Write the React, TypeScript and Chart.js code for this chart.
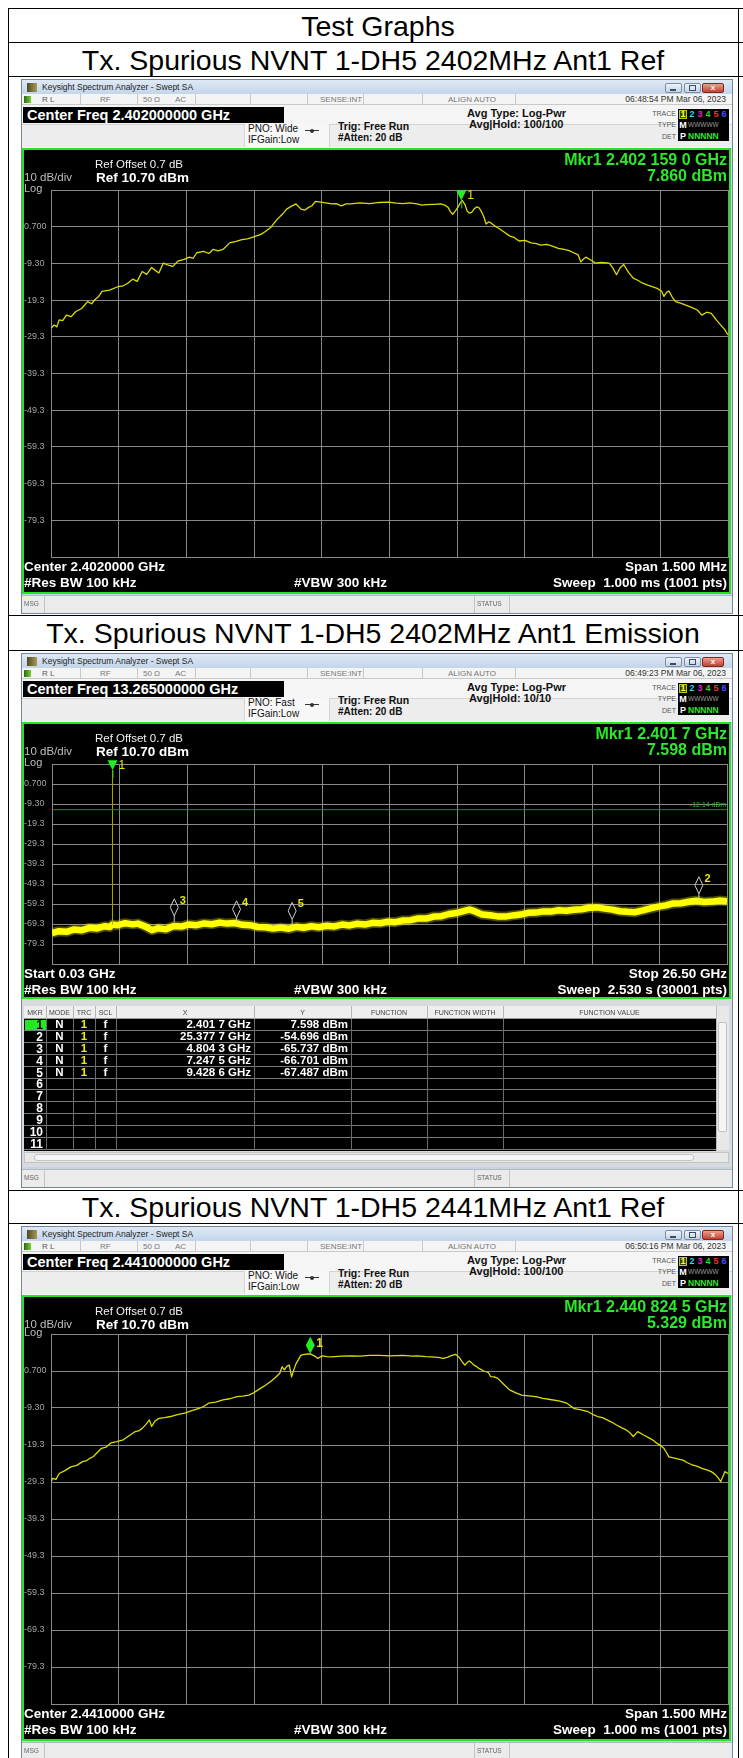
import React, { useEffect, useRef } from 'react';
import { Chart, registerables } from 'chart.js';

Chart.register(...registerables);

const SANS = '"Liberation Sans", Arial, Helvetica, sans-serif';
const GRID = '#8a8a8a';

// ---------------- axes ----------------
const yTickValues = [10.7, 0.7, -9.3, -19.3, -29.3, -39.3, -49.3, -59.3, -69.3, -79.3, -89.3];
const yTickLabels = ['', '0.700', '-9.30', '-19.3', '-29.3', '-39.3', '-49.3', '-59.3', '-69.3', '-79.3', ''];
const X_DIVS = 10;

// ---------------- 2402 MHz Ref (offset from centre, MHz) ----------------
const ref2402Offset = [
  -0.75, -0.743, -0.737, -0.732, -0.724, -0.716, -0.705, -0.695, -0.682, -0.669, -0.66, -0.653, -0.645, -0.637,
  -0.62, -0.601, -0.59, -0.58, -0.569, -0.559, -0.548, -0.538, -0.527, -0.519, -0.511, -0.501, -0.49, -0.48,
  -0.469, -0.455, -0.443, -0.435, -0.427, -0.412, -0.4, -0.391, -0.38, -0.369, -0.354, -0.34, -0.327, -0.315,
  -0.301, -0.285, -0.275, -0.264, -0.249, -0.238, -0.228, -0.217, -0.207, -0.196, -0.188, -0.18, -0.172, -0.164,
  -0.149, -0.138, -0.128, -0.118, -0.107, -0.096, -0.086, -0.065, -0.044, -0.023, -0.002, 0.015, 0.03, 0.045,
  0.061, 0.072, 0.082, 0.098, 0.114, 0.124, 0.13, 0.135, 0.14, 0.146, 0.151, 0.156, 0.161, 0.167, 0.172, 0.177,
  0.182, 0.188, 0.193, 0.198, 0.203, 0.209, 0.214, 0.219, 0.224, 0.232, 0.24, 0.253, 0.266, 0.277, 0.287, 0.3,
  0.314, 0.325, 0.335, 0.348, 0.361, 0.374, 0.387, 0.398, 0.408, 0.418, 0.424, 0.43, 0.435, 0.445, 0.456, 0.47,
  0.487, 0.495, 0.503, 0.511, 0.519, 0.53, 0.54, 0.55, 0.561, 0.572, 0.582, 0.593, 0.603, 0.608, 0.614, 0.619,
  0.627, 0.634, 0.645, 0.655, 0.668, 0.682, 0.692, 0.703, 0.713, 0.719, 0.724, 0.734, 0.742, 0.75,
];
const ref2402Level = [
  -27.0, -26.1, -26.6, -24.7, -24.9, -23.4, -23.8, -22.4, -21.6, -19.7, -20.3, -19.2, -18.4, -16.9,
  -16.6, -15.6, -15.4, -14.7, -13.6, -14.2, -11.5, -12.3, -10.4, -11.2, -11.9, -9.2, -9.8, -10.1,
  -8.7, -8.2, -7.6, -7.9, -6.4, -6.0, -6.6, -5.5, -5.9, -5.5, -3.7, -3.3, -2.8, -2.6,
  -2.1, -1.4, -0.6, 0.4, 2.7, 4.0, 5.5, 6.3, 6.9, 5.5, 5.2, 5.9, 6.4, 7.6,
  7.3, 7.1, 6.9, 7.0, 6.4, 6.9, 6.9, 7.2, 7.0, 7.3, 7.4, 7.1, 7.0, 7.2,
  6.9, 6.6, 6.7, 6.8, 6.9, 6.5, 5.9, 4.8, 4.1, 5.0, 5.9, 7.0, 7.86, 6.8, 5.0, 4.4,
  4.6, 5.6, 6.1, 5.9, 5.0, 3.4, 1.4, 2.0, 1.8, 1.0, 0.4, -0.7, -1.8, -2.3, -3.2, -3.0,
  -3.7, -3.9, -4.3, -4.1, -4.6, -5.2, -5.5, -5.8, -6.4, -7.0, -8.9, -8.1, -7.6, -8.3, -9.2, -9.0,
  -9.2, -10.6, -12.4, -10.5, -9.6, -11.8, -13.3, -13.9, -14.7, -15.2, -15.6, -16.1, -16.9, -18.3, -17.2, -16.8,
  -18.6, -19.7, -20.1, -20.6, -21.2, -22.0, -23.4, -22.6, -22.9, -23.9, -24.7, -26.1, -27.2, -28.8,
];
const ref2402MkrX = [0.159];
const ref2402MkrY = [7.86];

// ---------------- 2441 MHz Ref (offset from centre, MHz) ----------------
const ref2441Offset = [
  -0.75, -0.746, -0.739, -0.732, -0.72, -0.706, -0.693, -0.68, -0.672, -0.664, -0.656, -0.648, -0.638, -0.628,
  -0.617, -0.604, -0.59, -0.577, -0.564, -0.556, -0.548, -0.54, -0.532, -0.527, -0.52, -0.511, -0.498, -0.485,
  -0.47, -0.454, -0.438, -0.422, -0.412, -0.401, -0.385, -0.369, -0.354, -0.338, -0.325, -0.312, -0.301, -0.291,
  -0.278, -0.264, -0.254, -0.243, -0.238, -0.233, -0.227, -0.222, -0.217, -0.212, -0.207, -0.196, -0.188, -0.18,
  -0.175, -0.17, -0.164, -0.159, -0.149, -0.138, -0.128, -0.107, -0.086, -0.065, -0.044, -0.023, 0.0, 0.03,
  0.05, 0.061, 0.08, 0.093, 0.108, 0.119, 0.128, 0.135, 0.146, 0.151, 0.156, 0.162, 0.167, 0.172, 0.177, 0.182,
  0.188, 0.193, 0.198, 0.209, 0.219, 0.224, 0.232, 0.24, 0.253, 0.266, 0.28, 0.293, 0.308, 0.324, 0.34, 0.356,
  0.375, 0.393, 0.4, 0.408, 0.424, 0.44, 0.45, 0.461, 0.472, 0.482, 0.492, 0.503, 0.514, 0.524, 0.532, 0.54,
  0.55, 0.563, 0.577, 0.585, 0.592, 0.6, 0.608, 0.614, 0.619, 0.634, 0.65, 0.66, 0.671, 0.682, 0.692, 0.703,
  0.713, 0.722, 0.729, 0.734, 0.738, 0.743, 0.75,
];
const ref2441Level = [
  -29.2, -28.3, -28.6, -27.0, -26.3, -25.2, -24.8, -23.8, -23.6, -22.9, -22.4, -21.4, -20.2, -19.9,
  -18.7, -18.4, -17.9, -16.8, -15.7, -15.5, -14.8, -13.8, -12.5, -14.3, -12.9, -12.1, -11.9, -11.6,
  -11.1, -10.7, -10.0, -9.4, -8.9, -8.0, -7.7, -7.1, -6.8, -6.2, -6.1, -5.8, -5.2, -4.4,
  -3.4, -2.2, -1.2, 0.1, 1.85, 1.0, 2.0, 2.3, -0.9, 1.0, 2.7, 5.0, 5.2, 5.3,
  5.329, 5.0, 4.6, 4.1, 4.8, 4.6, 4.5, 4.7, 4.8, 4.7, 4.9, 4.9, 4.8, 4.9,
  4.7, 4.8, 4.6, 4.5, 4.4, 4.1, 4.4, 4.8, 5.2, 4.8, 4.1, 3.0, 2.3, 3.0, 3.4, 2.9,
  2.2, 1.9, 1.4, 0.7, 0.3, -0.8, -0.9, -1.3, -2.9, -4.4, -5.2, -5.8, -6.0, -6.2, -6.7, -7.0,
  -7.4, -8.0, -8.6, -9.4, -9.8, -10.3, -11.0, -11.6, -11.9, -12.5, -13.1, -13.9, -14.6, -15.2, -15.9, -17.0,
  -15.7, -16.6, -17.5, -18.1, -18.8, -19.4, -20.2, -21.4, -22.5, -22.9, -23.4, -24.1, -24.7, -25.1, -25.6, -26.0,
  -26.5, -27.3, -28.3, -29.2, -28.0, -26.5, -27.0,
];
const ref2441MkrX = [-0.1755];
const ref2441MkrY = [5.329];

// ---------------- 2402 MHz Emission (GHz) ----------------
const emiFreq = [
  0.03, 0.3, 0.6, 0.9, 1.2, 1.5, 1.8, 2.1, 2.3, 2.4, 2.6, 2.9, 3.2, 3.4, 3.7, 3.95, 4.2, 4.5, 4.8, 5.1,
  5.4, 5.7, 6.0, 6.3, 6.6, 6.9, 7.2, 7.5, 7.8, 8.1, 8.4, 8.7, 9.0, 9.3, 9.6, 9.9, 10.2, 10.5, 10.8, 11.1,
  11.4, 11.7, 12.0, 12.3, 12.6, 12.9, 13.2, 13.5, 13.8, 14.1, 14.4, 14.7, 15.0, 15.3, 15.6, 15.9, 16.2, 16.4,
  16.6, 16.9, 17.2, 17.5, 17.8, 18.1, 18.4, 18.7, 19.0, 19.3, 19.6, 19.9, 20.2, 20.5, 20.8, 21.1, 21.4, 21.7,
  22.0, 22.3, 22.6, 22.9, 23.2, 23.5, 23.8, 24.1, 24.4, 24.7, 25.0, 25.3, 25.6, 25.9, 26.2, 26.5,
];
const emiLevel = [
  -73.8, -72.9, -73.2, -72.0, -72.4, -71.2, -71.5, -70.4, -70.8, -69.6, -69.9, -68.9, -69.5, -69.1, -70.6, -72.4, -71.4, -71.9, -70.3, -70.6,
  -69.5, -69.9, -69.0, -69.4, -68.6, -69.1, -68.8, -69.7, -69.9, -70.8, -70.9, -71.6, -71.1, -71.7, -70.7, -71.2, -70.4, -70.9, -70.2, -70.5,
  -69.6, -70.0, -69.2, -69.6, -68.7, -68.9, -68.2, -68.4, -67.5, -67.4, -66.5, -66.6, -65.6, -65.4, -64.3, -63.8, -62.7, -62.1,
  -62.9, -64.6, -64.9, -65.5, -65.6, -65.0, -64.6, -63.7, -63.6, -63.0, -63.1, -62.4, -62.7, -62.2, -61.9, -61.2, -61.0, -61.6,
  -62.1, -62.9, -63.2, -63.4, -62.5, -61.5, -60.6, -60.0, -59.0, -58.9, -58.2, -57.7, -58.3, -58.1, -57.6, -57.9,
];
const emiSpikeFreq = [2.4017, 2.4017];
const emiSpikeLevel = [-69.6, 7.598];
const emiMkrFreq = [2.4017, 25.3777, 4.8043, 7.2475, 9.4286];
const emiMkrLevel = [7.598, -54.696, -65.737, -66.701, -67.487];
const emiDisplayLine = -12.14;

// ---------------- helpers ----------------
type MarkerDef = { x: number; y: number; label: string; shape: 'tri' | 'dia' | 'hollow' };
type SeriesDef = { xs: number[]; ys: number[]; color: string; width: number };
type PlotDef = {
  w: number; h: number; yAxisW: number; padTop: number; padBottom: number; padRight: number;
  xMin: number; xMax: number; series: SeriesDef[]; markers: MarkerDef[]; dline?: number;
};

function Plot({ def, left, top }: { def: PlotDef; left: number; top: number }) {
  const ref = useRef<HTMLCanvasElement>(null);
  useEffect(() => {
    const canvas = ref.current;
    if (!canvas) return;
    const span = def.xMax - def.xMin;
    const xTicks = Array.from({ length: X_DIVS + 1 }, (_, i) => def.xMin + (span * i) / X_DIVS);
    const datasets: any[] = [];
    if (def.dline !== undefined) {
      datasets.push({
        data: [{ x: def.xMin, y: def.dline }, { x: def.xMax, y: def.dline }],
        borderColor: '#0c9a0c', borderWidth: 1, pointRadius: 0, fill: false,
      });
    }
    def.series.forEach((s) => {
      datasets.push({
        data: s.xs.map((x, i) => ({ x, y: s.ys[i] })),
        borderColor: s.color, borderWidth: s.width, pointRadius: 0, tension: 0, fill: false,
        borderJoinStyle: 'round', borderCapStyle: 'butt',
      });
    });
    const mkPlugin = {
      id: 'mkrs',
      afterDatasetsDraw(chart: any) {
        const ctx = chart.ctx;
        const xs = chart.scales.x;
        const ys = chart.scales.y;
        ctx.save();
        if (def.dline !== undefined) {
          const py = ys.getPixelForValue(def.dline);
          ctx.fillStyle = '#22c022';
          ctx.font = `7px ${SANS}`;
          ctx.textAlign = 'right';
          ctx.textBaseline = 'alphabetic';
          ctx.fillText(`${def.dline.toFixed(2)} dBm`, chart.chartArea.right - 1, py - 3);
        }
        def.markers.forEach((m) => {
          const px = xs.getPixelForValue(m.x);
          const py = ys.getPixelForValue(m.y);
          ctx.beginPath();
          if (m.shape === 'tri') {
            ctx.moveTo(px - 5, py - 10);
            ctx.lineTo(px + 5, py - 10);
            ctx.lineTo(px, py);
            ctx.closePath();
            ctx.fillStyle = '#22ee22';
            ctx.fill();
            ctx.beginPath();
            ctx.moveTo(px + 0.5, py);
            ctx.lineTo(px + 0.5, py + 8);
            ctx.strokeStyle = '#22cc22';
            ctx.lineWidth = 1;
            ctx.stroke();
            ctx.fillStyle = '#e8e800';
            ctx.font = `12px ${SANS}`;
            ctx.textAlign = 'left';
            ctx.textBaseline = 'middle';
            ctx.fillText(m.label, px + 6, py - 5);
          } else if (m.shape === 'dia') {
            ctx.moveTo(px, py - 17);
            ctx.lineTo(px + 4.5, py - 8.5);
            ctx.lineTo(px, py);
            ctx.lineTo(px - 4.5, py - 8.5);
            ctx.closePath();
            ctx.fillStyle = '#22ee22';
            ctx.fill();
            ctx.fillStyle = '#e8e800';
            ctx.font = `bold 12px ${SANS}`;
            ctx.textAlign = 'left';
            ctx.textBaseline = 'middle';
            ctx.fillText(m.label, px + 6, py - 10);
          } else {
            ctx.moveTo(px + 0.5, py - 18);
            ctx.lineTo(px + 4.5, py - 9.5);
            ctx.lineTo(px + 0.5, py - 1);
            ctx.lineTo(px - 3.5, py - 9.5);
            ctx.closePath();
            ctx.strokeStyle = '#cfcfcf';
            ctx.lineWidth = 1;
            ctx.stroke();
            ctx.beginPath();
            ctx.moveTo(px + 0.5, py - 1);
            ctx.lineTo(px + 0.5, py + 5);
            ctx.stroke();
            ctx.fillStyle = '#e8e800';
            ctx.font = `bold 11px ${SANS}`;
            ctx.textAlign = 'left';
            ctx.textBaseline = 'middle';
            ctx.fillText(m.label, px + 6, py - 16);
          }
        });
        ctx.restore();
      },
    };
    const chart = new Chart(canvas, {
      type: 'line',
      data: { datasets },
      options: {
        responsive: false,
        animation: false,
        events: [],
        layout: { padding: { left: 0, top: def.padTop, bottom: def.padBottom, right: def.padRight } },
        plugins: { legend: { display: false }, tooltip: { enabled: false }, title: { display: false } },
        scales: {
          x: {
            type: 'linear', min: def.xMin, max: def.xMax,
            ticks: { display: false },
            grid: { color: GRID, lineWidth: 1, drawTicks: false },
            border: { display: true, color: GRID },
            afterBuildTicks: (s: any) => { s.ticks = xTicks.map((v) => ({ value: v })); },
            afterFit: (s: any) => { s.height = 0; },
          },
          y: {
            type: 'linear', min: -89.3, max: 10.7,
            ticks: {
              color: '#a4a4a4', font: { family: SANS, size: 9 }, padding: 0, crossAlign: 'far', autoSkip: false,
              callback: (v: any) => {
                const i = yTickValues.findIndex((t) => Math.abs(t - Number(v)) < 1e-6);
                return i >= 0 ? yTickLabels[i] : '';
              },
            },
            grid: { color: GRID, lineWidth: 1, drawTicks: false },
            border: { display: true, color: GRID },
            afterBuildTicks: (s: any) => { s.ticks = yTickValues.slice().reverse().map((v) => ({ value: v })); },
            afterFit: (s: any) => { s.width = def.yAxisW; },
          },
        },
      } as any,
      plugins: [mkPlugin],
    });
    return () => chart.destroy();
  }, []);
  return (
    <canvas ref={ref} width={def.w} height={def.h}
      style={{ position: 'absolute', left, top, width: def.w, height: def.h, display: 'block' }} />
  );
}

function Txt({ x, y, s, w = 420, a = 'left', c = '#000', b = false, children }: any) {
  const left = a === 'left' ? x : a === 'right' ? x - w : x - w / 2;
  return (
    <div style={{
      position: 'absolute', left, top: y - s / 2, width: w, height: s, lineHeight: s + 'px', fontSize: s,
      fontFamily: SANS, fontWeight: b ? 700 : 400, color: c, textAlign: a, whiteSpace: 'pre',
    }}>{children}</div>
  );
}

function Box({ x, y, w, h, bg, st }: any) {
  return <div style={{ position: 'absolute', left: x, top: y, width: w, height: h, background: bg, boxSizing: 'border-box', ...st }} />;
}

type WinInfo = {
  T: number; dispH: number; gridTop: number; gridBottom: number;
  center: string; pno: string; avgHold: string; time: string; mkr: string; mkrVal: string;
  bl: string; br: string; sweep: string; plot: PlotDef;
};

function Win({ info, children }: { info: WinInfo; children?: any }) {
  const T = info.T;
  const D = T + 69;
  const G = info.gridBottom;
  const statSeps = [80, 137, 195, 250, 307, 363, 422, 515];
  return (
    <>
      <Box x={21} y={T} w={712} h={535} bg="#c4d4e7" st={{ border: '1px solid #72869c' }} />
      <Box x={22} y={T + 1} w={710} h={14} bg="linear-gradient(#dfe9f5,#c3d5ea)" />
      <Box x={27} y={T + 4} w={10} h={9} bg="linear-gradient(90deg,#4e4a22,#a99a55)" />
      <Txt x={42} y={T + 8.5} s={8.5} c="#1e1e1e">Keysight Spectrum Analyzer - Swept SA</Txt>
      <Box x={665} y={T + 4} w={17} h={10} bg="linear-gradient(#eef3f9,#c5d3e3)" st={{ border: '1px solid #7b8ea5', borderRadius: 2 }} />
      <Box x={670} y={T + 10} w={6} h={2} bg="#3b4d63" />
      <Box x={684} y={T + 4} w={17} h={10} bg="linear-gradient(#eef3f9,#c5d3e3)" st={{ border: '1px solid #7b8ea5', borderRadius: 2 }} />
      <Box x={689} y={T + 6} w={7} h={6} bg="transparent" st={{ border: '1px solid #3b4d63' }} />
      <Box x={702} y={T + 4} w={22} h={10} bg="linear-gradient(#e9a08f,#c4412c)" st={{ border: '1px solid #7a2a20', borderRadius: 2 }} />
      <Txt x={713} y={T + 9} s={8} a="center" w={20} c="#fff" b>x</Txt>
      {/* status row */}
      <Box x={22} y={T + 15} w={710} h={11} bg="#f4f4f4" st={{ borderBottom: '1px solid #c9c9c9' }} />
      <Box x={24} y={T + 17} w={7} h={7} bg="linear-gradient(90deg,#2a6a10,#7bd13a)" />
      {statSeps.map((sx) => <Box key={sx} x={sx} y={T + 15} w={1} h={11} bg="#c8c8c8" />)}
      <Txt x={42} y={T + 20.5} s={8} c="#555">R L</Txt>
      <Txt x={100} y={T + 20.5} s={8} c="#777">RF</Txt>
      <Txt x={143} y={T + 20.5} s={8} c="#777">50 Ω</Txt>
      <Txt x={175} y={T + 20.5} s={8} c="#777">AC</Txt>
      <Txt x={320} y={T + 20.5} s={8} c="#777">SENSE:INT</Txt>
      <Txt x={448} y={T + 20.5} s={8} c="#777">ALIGN AUTO</Txt>
      <Txt x={726} y={T + 20.5} s={8.5} a="right" c="#333">{info.time}</Txt>
      {/* settings panel */}
      <Box x={22} y={T + 26} w={710} h={43} bg="#f5f5f5" />
      <Box x={22} y={T + 45} w={710} h={23} bg="#ededed" st={{ borderTop: '1px solid #d2d2d2' }} />
      <Box x={244} y={T + 45} w={86} h={23} bg="#f7f7f7" st={{ borderLeft: '1px solid #d5d5d5', borderRight: '1px solid #d5d5d5' }} />
      <Box x={23} y={T + 28} w={261} h={16} bg="#000" />
      <Txt x={27} y={T + 36} s={14.5} c="#fff" b>{info.center}</Txt>
      <Txt x={248} y={T + 50} s={10} c="#111">{info.pno}</Txt>
      <Txt x={248} y={T + 61} s={10} c="#111">IFGain:Low</Txt>
      <Box x={305} y={T + 51} w={14} h={1} bg="#333" />
      <Box x={310} y={T + 49.5} w={4} h={4} bg="#333" st={{ borderRadius: 2 }} />
      <Txt x={338} y={T + 47} s={10.5} c="#111" b>Trig: Free Run</Txt>
      <Txt x={338} y={T + 59} s={10} c="#111" b>#Atten: 20 dB</Txt>
      <Txt x={467} y={T + 34} s={11} c="#111" b>Avg Type: Log-Pwr</Txt>
      <Txt x={469} y={T + 45.5} s={11} c="#111" b>{info.avgHold}</Txt>
      <Txt x={676} y={T + 34.5} s={7} a="right" c="#555">TRACE</Txt>
      <Txt x={676} y={T + 45.5} s={7} a="right" c="#555">TYPE</Txt>
      <Txt x={676} y={T + 57} s={7} a="right" c="#555">DET</Txt>
      <Box x={678} y={T + 30} w={51} h={32} bg="#000" />
      <Box x={679} y={T + 30.5} w={8} h={9} bg="#2d4a1e" st={{ border: '1px solid #c8c800' }} />
      <Txt x={683} y={T + 35} s={9} a="center" w={8} c="#ffff33" b>1</Txt>
      <Txt x={692} y={T + 35} s={9} a="center" w={8} c="#28d7e8" b>2</Txt>
      <Txt x={700} y={T + 35} s={9} a="center" w={8} c="#d62bd6" b>3</Txt>
      <Txt x={708} y={T + 35} s={9} a="center" w={8} c="#2bd62b" b>4</Txt>
      <Txt x={716} y={T + 35} s={9} a="center" w={8} c="#e83030" b>5</Txt>
      <Txt x={724} y={T + 35} s={9} a="center" w={8} c="#3b55ff" b>6</Txt>
      <Txt x={683} y={T + 46} s={9} a="center" w={8} c="#fff" b>M</Txt>
      <Txt x={688} y={T + 46} s={6.5} c="#9a9a9a">WWWWW</Txt>
      <Txt x={683} y={T + 57} s={9} a="center" w={8} c="#fff" b>P</Txt>
      <Txt x={688} y={T + 57} s={8.5} c="#2ee62e" b>NNNNN</Txt>
      {/* display */}
      <Box x={22} y={D} w={709} h={info.dispH} bg="#000" st={{ border: '2px solid #22e622' }} />
      <Plot def={info.plot} left={24} top={D + 2} />
      <Txt x={727} y={D + 12} s={16} a="right" c="#2ae82a" b>{info.mkr}</Txt>
      <Txt x={727} y={D + 28} s={16} a="right" c="#2ae82a" b>{info.mkrVal}</Txt>
      <Txt x={95} y={D + 17} s={11.5} c="#f0f0f0">Ref Offset 0.7 dB</Txt>
      <Txt x={24} y={D + 30} s={11.5} c="#bdbdbd">10 dB/div</Txt>
      <Txt x={96} y={D + 30} s={13.5} c="#fff" b>Ref 10.70 dBm</Txt>
      <Txt x={24} y={info.gridTop - 2} s={11} c="#bdbdbd">Log</Txt>
      <Txt x={24} y={G + 10} s={13.5} c="#fff" b>{info.bl}</Txt>
      <Txt x={727} y={G + 10} s={13.5} a="right" c="#fff" b>{info.br}</Txt>
      <Txt x={24} y={G + 26} s={13.5} c="#fff" b>#Res BW 100 kHz</Txt>
      <Txt x={294} y={G + 26} s={13.5} c="#fff" b>#VBW 300 kHz</Txt>
      <Txt x={727} y={G + 26} s={13.5} a="right" c="#fff" b>{info.sweep}</Txt>
      {children}
      {/* msg bar */}
      <Box x={22} y={T + 516} w={710} h={18} bg="#ebebeb" st={{ borderTop: '1px solid #b9b9b9' }} />
      <Box x={44} y={T + 517} w={1} h={17} bg="#c4c4c4" />
      <Box x={474} y={T + 517} w={1} h={17} bg="#c4c4c4" />
      <Box x={509} y={T + 517} w={1} h={17} bg="#c4c4c4" />
      <Txt x={24} y={T + 525} s={6.5} c="#666">MSG</Txt>
      <Txt x={477} y={T + 525} s={6.5} c="#666">STATUS</Txt>
    </>
  );
}

function fmtFreq(v: number) {
  const s = v.toFixed(4);
  return `${s.slice(0, -1)} ${s.slice(-1)} GHz`;
}

function MarkerTable() {
  const top = 1006;
  const rowH = 11.9;
  const cols = [
    { x0: 24, x1: 46, t: 'MKR' }, { x0: 46, x1: 73, t: 'MODE' }, { x0: 73, x1: 95, t: 'TRC' },
    { x0: 95, x1: 116, t: 'SCL' }, { x0: 116, x1: 254, t: 'X' }, { x0: 254, x1: 351, t: 'Y' },
    { x0: 351, x1: 427, t: 'FUNCTION' }, { x0: 427, x1: 503, t: 'FUNCTION WIDTH' }, { x0: 503, x1: 716, t: 'FUNCTION VALUE' },
  ];
  const rowsTop = top + 13;
  const nRows = 11;
  return (
    <>
      <Box x={22} y={999} w={710} h={168} bg="#d8dadd" />
      <Box x={24} y={top} w={692} h={13} bg="#eeeeee" st={{ borderBottom: '1px solid #9a9a9a' }} />
      {cols.map((c) => (
        <React.Fragment key={c.t}>
          <Box x={c.x1} y={top} w={1} h={13} bg="#b5b5b5" />
          <Txt x={(c.x0 + c.x1) / 2} y={top + 6.5} s={7} a="center" w={c.x1 - c.x0 + 10} c="#444">{c.t}</Txt>
        </React.Fragment>
      ))}
      <Box x={24} y={rowsTop} w={692} h={nRows * rowH + 1} bg="#000" />
      {Array.from({ length: nRows }, (_, i) => (
        <Box key={'r' + i} x={24} y={rowsTop + (i + 1) * rowH - 1} w={692} h={1} bg="#7a7a7a" />
      ))}
      {cols.slice(0, 8).map((c) => (
        <Box key={'v' + c.t} x={c.x1} y={rowsTop} w={1} h={nRows * rowH} bg="#6a6a6a" />
      ))}
      <Box x={25} y={rowsTop + 0.5} w={21} h={rowH - 1.5} bg="#25e825" />
      {Array.from({ length: nRows }, (_, i) => (
        <Txt key={'n' + i} x={43} y={rowsTop + i * rowH + rowH / 2} s={12} a="right" c={i === 0 ? '#000' : '#fff'} b>{String(i + 1)}</Txt>
      ))}
      {emiMkrFreq.map((f, i) => (
        <React.Fragment key={'m' + i}>
          <Txt x={59.5} y={rowsTop + i * rowH + rowH / 2} s={11.5} a="center" w={20} c="#fff" b>N</Txt>
          <Txt x={84} y={rowsTop + i * rowH + rowH / 2} s={11.5} a="center" w={20} c="#ecec00" b>1</Txt>
          <Txt x={105.5} y={rowsTop + i * rowH + rowH / 2} s={11.5} a="center" w={20} c="#fff" b>f</Txt>
          <Txt x={251} y={rowsTop + i * rowH + rowH / 2} s={11.5} a="right" c="#fff" b>{fmtFreq(f)}</Txt>
          <Txt x={348} y={rowsTop + i * rowH + rowH / 2} s={11.5} a="right" c="#fff" b>{`${emiMkrLevel[i].toFixed(3)} dBm`}</Txt>
        </React.Fragment>
      ))}
      {/* vertical scrollbar */}
      <Box x={716} y={top} w={13} h={13 + nRows * rowH} bg="#e8e8e8" st={{ borderLeft: '1px solid #bdbdbd' }} />
      <Box x={718} y={top + 16} w={9} h={110} bg="#f4f4f4" st={{ border: '1px solid #c2c2c2', borderRadius: 2 }} />
      {/* horizontal scrollbar */}
      <Box x={24} y={1152} w={705} h={11} bg="#e8e8e8" st={{ border: '1px solid #c4c4c4' }} />
      <Box x={34} y={1154} w={660} h={7} bg="#f6f6f6" st={{ border: '1px solid #c4c4c4', borderRadius: 3 }} />
    </>
  );
}

const win1: WinInfo = {
  T: 79, dispH: 446, gridTop: 190, gridBottom: 557,
  center: 'Center Freq 2.402000000 GHz', pno: 'PNO: Wide', avgHold: 'Avg|Hold: 100/100',
  time: '06:48:54 PM Mar 06, 2023', mkr: 'Mkr1 2.402 159 0 GHz', mkrVal: '7.860 dBm',
  bl: 'Center 2.4020000 GHz', br: 'Span 1.500 MHz', sweep: 'Sweep  1.000 ms (1001 pts)',
  plot: {
    w: 705, h: 442, yAxisW: 27, padTop: 40, padBottom: 35, padRight: 1, xMin: -0.75, xMax: 0.75,
    series: [{ xs: ref2402Offset, ys: ref2402Level, color: '#dcdc00', width: 1.3 }],
    markers: ref2402MkrX.map((x, i) => ({ x, y: ref2402MkrY[i], label: String(i + 1), shape: 'tri' as const })),
  },
};

const win2: WinInfo = {
  T: 653, dispH: 277, gridTop: 764, gridBottom: 964,
  center: 'Center Freq 13.265000000 GHz', pno: 'PNO: Fast', avgHold: 'Avg|Hold: 10/10',
  time: '06:49:23 PM Mar 06, 2023', mkr: 'Mkr1 2.401 7 GHz', mkrVal: '7.598 dBm',
  bl: 'Start 0.03 GHz', br: 'Stop 26.50 GHz', sweep: 'Sweep  2.530 s (30001 pts)',
  plot: {
    w: 705, h: 273, yAxisW: 28, padTop: 40, padBottom: 33, padRight: 2, xMin: 0.03, xMax: 26.5,
    dline: emiDisplayLine,
    series: [
      { xs: emiSpikeFreq, ys: emiSpikeLevel, color: '#a8a800', width: 1 },
      { xs: emiFreq, ys: emiLevel, color: 'rgba(255,255,0,0.3)', width: 10 },
      { xs: emiFreq, ys: emiLevel, color: '#ffff00', width: 6.5 },
    ],
    markers: emiMkrFreq.map((x, i) => ({ x, y: emiMkrLevel[i], label: String(i + 1), shape: i === 0 ? 'tri' as const : 'hollow' as const })),
  },
};

const win3: WinInfo = {
  T: 1226, dispH: 446, gridTop: 1334, gridBottom: 1704,
  center: 'Center Freq 2.441000000 GHz', pno: 'PNO: Wide', avgHold: 'Avg|Hold: 100/100',
  time: '06:50:16 PM Mar 06, 2023', mkr: 'Mkr1 2.440 824 5 GHz', mkrVal: '5.329 dBm',
  bl: 'Center 2.4410000 GHz', br: 'Span 1.500 MHz', sweep: 'Sweep  1.000 ms (1001 pts)',
  plot: {
    w: 705, h: 442, yAxisW: 27, padTop: 37, padBottom: 35, padRight: 1, xMin: -0.75, xMax: 0.75,
    series: [{ xs: ref2441Offset, ys: ref2441Level, color: '#dcdc00', width: 1.3 }],
    markers: ref2441MkrX.map((x, i) => ({ x, y: ref2441MkrY[i], label: String(i + 1), shape: 'dia' as const })),
  },
};

const rowLines = [8, 42, 76, 615, 650, 1190, 1223];

export default function App() {
  return (
    <div style={{ position: 'absolute', left: 0, top: 0, width: 743, height: 1758, overflow: 'hidden', background: '#fff' }}>
      {rowLines.map((y) => <Box key={y} x={8} y={y} w={735} h={1} bg="#000" />)}
      <Box x={8} y={8} w={1} h={1750} bg="#000" />
      <Box x={738} y={8} w={1} h={1750} bg="#000" />
      <Txt x={378} y={26} s={28.5} a="center" w={720}>Test Graphs</Txt>
      <Txt x={373} y={60} s={28.5} a="center" w={720}>Tx. Spurious NVNT 1-DH5 2402MHz Ant1 Ref</Txt>
      <Txt x={373} y={633} s={28.5} a="center" w={720}>Tx. Spurious NVNT 1-DH5 2402MHz Ant1 Emission</Txt>
      <Txt x={373} y={1207} s={28.5} a="center" w={720}>Tx. Spurious NVNT 1-DH5 2441MHz Ant1 Ref</Txt>
      <Win info={win1} />
      <Win info={win2}>
        <MarkerTable />
      </Win>
      <Win info={win3} />
    </div>
  );
}
